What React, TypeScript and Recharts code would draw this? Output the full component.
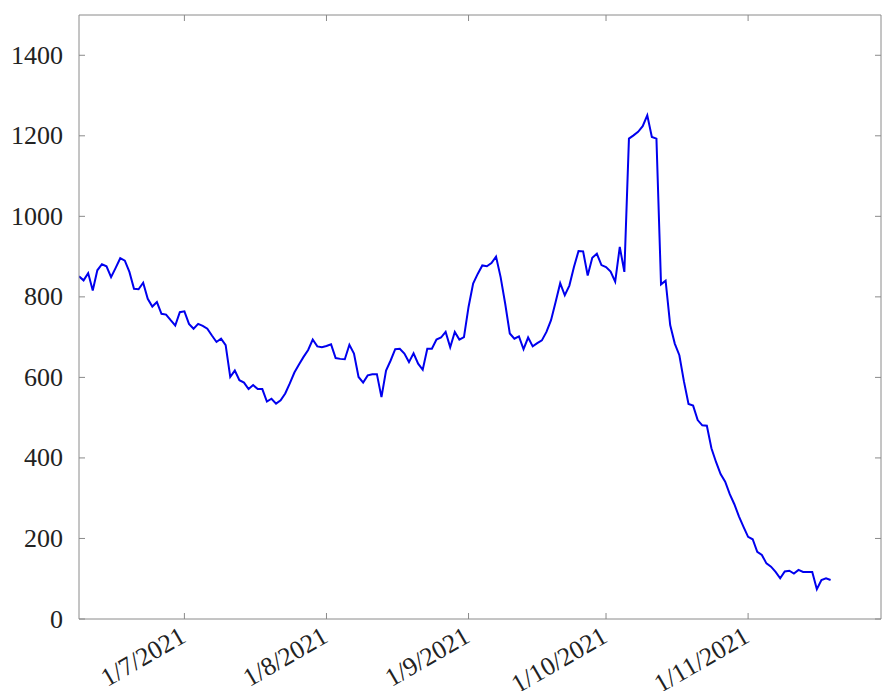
import { LineChart, Line, XAxis, YAxis } from "recharts";

// days counted from 8 Jun 2021 (day 0)
const startDay = 0;
const values = [
  851, 841, 859, 816, 866, 881, 876, 849, 872, 896,
  890, 862, 820, 819, 835, 795, 776, 787, 758, 756,
  742, 729, 762, 764, 733, 721, 733, 728, 721, 704,
  688, 696, 680, 601, 617, 593, 587, 571, 581, 571,
  571, 540, 547, 535, 543, 560, 585, 612, 632, 651,
  668, 694, 677, 675, 678, 682, 648, 646, 645, 681,
  659, 601, 587, 605, 608, 608, 551, 617, 642, 670,
  671, 659, 638, 660, 634, 619, 671, 671, 694, 699,
  713, 675, 713, 694, 700, 775, 833, 857, 878, 876,
  884, 900, 849, 783, 709, 696, 702, 670, 699, 677,
  685, 692, 713, 742, 787, 834, 804, 828, 874, 914,
  913, 853, 897, 907, 879, 874, 863, 838, 924, 862,
  1193, 1201, 1210, 1224, 1251, 1197, 1193, 831, 840, 730,
  684, 655, 590, 534, 530, 494, 481, 480, 424, 390,
  360, 341, 310, 285, 255, 229, 204, 198, 167, 159,
  138, 130, 117, 101, 118, 120, 113, 122, 117, 117,
  117, 74, 97, 101, 97,
];

const xTicks = [23, 54, 85, 115, 146];
const xTickLabels = ["1/7/2021", "1/8/2021", "1/9/2021", "1/10/2021", "1/11/2021"];
const yTicks = [0, 200, 400, 600, 800, 1000, 1200, 1400];

const data = values.map((v, i) => ({ day: startDay + i, value: v }));

const axisColor = "#8a8a8a";
const font = "'Liberation Serif', 'Times New Roman', serif";

function BottomTick({ x, y, payload }: any) {
  const label = xTickLabels[xTicks.indexOf(payload.value)] ?? "";
  const ax = x + 3;
  const ay = y + 22;
  return (
    <g>
      <line x1={x} y1={y} x2={x} y2={y - 6} stroke={axisColor} strokeWidth={1} />
      <text
        x={ax}
        y={ay}
        textAnchor="end"
        fontFamily={font}
        fontSize={26}
        fill="#222"
        transform={`rotate(-30, ${ax}, ${ay})`}
      >
        {label}
      </text>
    </g>
  );
}

function TopTick({ x, y }: any) {
  return <line x1={x} y1={y} x2={x} y2={y + 6} stroke={axisColor} strokeWidth={1} />;
}

function LeftTick({ x, y, payload }: any) {
  return (
    <g>
      <line x1={x} y1={y} x2={x + 6} y2={y} stroke={axisColor} strokeWidth={1} />
      <text
        x={x - 16}
        y={y}
        textAnchor="end"
        dominantBaseline="central"
        fontFamily={font}
        fontSize={26}
        fill="#222"
      >
        {payload.value}
      </text>
    </g>
  );
}

function RightTick({ x, y }: any) {
  return <line x1={x} y1={y} x2={x - 6} y2={y} stroke={axisColor} strokeWidth={1} />;
}

export default function App() {
  return (
    <div style={{ position: "absolute", left: 0, top: 0, width: 882, height: 691, background: "#fff" }}>
      <LineChart width={882} height={691} data={data} margin={{ top: 14, right: 0, bottom: 0, left: 0 }}>
        <XAxis
          dataKey="day"
          type="number"
          domain={[0, 175]}
          ticks={xTicks}
          allowDataOverflow
          height={72}
          tickSize={0}
          tickMargin={0}
          tickLine={false}
          interval={0}
          stroke={axisColor}
          tick={<BottomTick />}
        />
        <XAxis
          xAxisId="top"
          orientation="top"
          dataKey="day"
          type="number"
          domain={[0, 175]}
          ticks={xTicks}
          allowDataOverflow
          height={1}
          tickSize={0}
          tickMargin={0}
          tickLine={false}
          interval={0}
          stroke={axisColor}
          tick={<TopTick />}
        />
        <YAxis
          type="number"
          domain={[0, 1500]}
          ticks={yTicks}
          allowDataOverflow
          width={79}
          tickSize={0}
          tickMargin={0}
          tickLine={false}
          interval={0}
          stroke={axisColor}
          tick={<LeftTick />}
        />
        <YAxis
          yAxisId="right"
          orientation="right"
          type="number"
          domain={[0, 1500]}
          ticks={yTicks}
          allowDataOverflow
          width={1}
          tickSize={0}
          tickMargin={0}
          tickLine={false}
          interval={0}
          stroke={axisColor}
          tick={<RightTick />}
        />
        <Line
          type="linear"
          dataKey="value"
          stroke="#0000ee"
          strokeWidth={2}
          dot={false}
          isAnimationActive={false}
        />
        <Line
          xAxisId="top"
          yAxisId="right"
          type="linear"
          dataKey="value"
          stroke="none"
          dot={false}
          legendType="none"
          isAnimationActive={false}
        />
      </LineChart>
    </div>
  );
}
